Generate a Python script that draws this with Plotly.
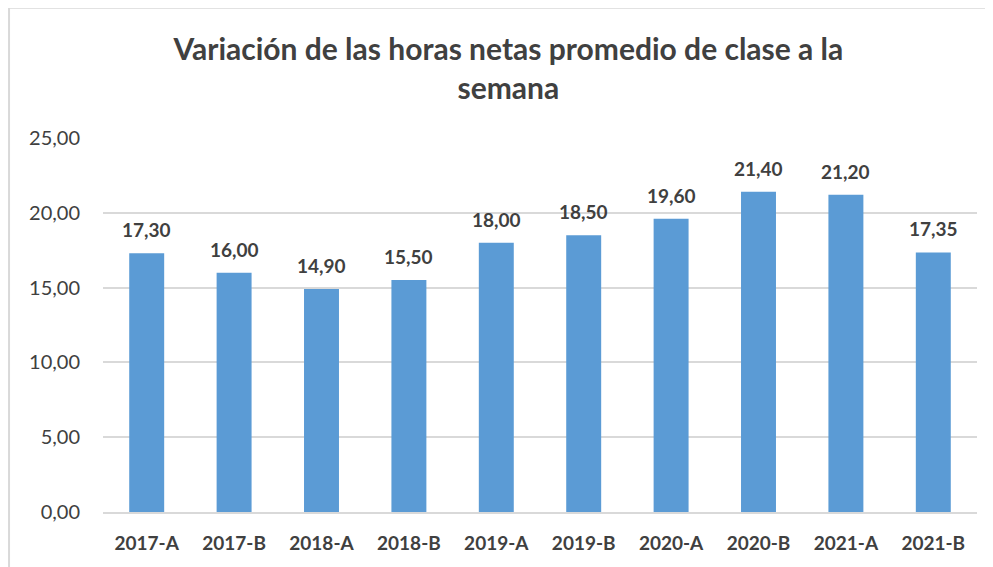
import plotly.graph_objects as go

# Semesters and average weekly net class hours
semesters = ["2017-A", "2017-B", "2018-A", "2018-B", "2019-A",
             "2019-B", "2020-A", "2020-B", "2021-A", "2021-B"]
hours = [17.30, 16.00, 14.90, 15.50, 18.00, 18.50, 19.60, 21.40, 21.20, 17.35]
y_ticks = [0, 5, 10, 15, 20, 25]

font_main = "Lato, Carlito, Calibri, sans-serif"
text_color = "#404040"

fig = go.Figure()
fig.add_trace(go.Bar(
    x=semesters, y=hours,
    marker=dict(color="#5B9BD5", line=dict(width=0)),
    width=0.4,
    hoverinfo="x+y",
))

# data labels above the bars
for s, h in zip(semesters, hours):
    fig.add_annotation(
        x=s, y=h, text=f"{h:.2f}".replace(".", ","),
        showarrow=False, yanchor="bottom", yshift=10,
        font=dict(family=font_main, size=19, color=text_color, weight="bold"),
    )

# light border around the chart area (page body has an 8px margin)
fig.add_shape(type="rect", xref="paper", yref="paper",
              x0=-0.1075, x1=1.3, y0=-0.3, y1=1.3485,
              line=dict(color="#D9D9D9", width=2), layer="below")

fig.update_layout(
    width=985, height=559,
    margin=dict(l=95, r=16, t=130, b=55),
    paper_bgcolor="white", plot_bgcolor="white",
    separators=",.",
    showlegend=False,
    title=dict(
        text="Variación de las horas netas promedio de clase a la<br>semana",
        x=0.508, xanchor="center", y=0.907, yanchor="top",
        font=dict(family=font_main, size=30, color=text_color, weight="bold"),
    ),
    xaxis=dict(
        showgrid=False, showline=True, linecolor="#D9D9D9", linewidth=2,
        ticks="", ticklabelstandoff=13,
        tickfont=dict(family=font_main, size=19, color=text_color, weight="bold"),
    ),
    yaxis=dict(
        range=[0, 25], tickvals=y_ticks, tickformat=".2f",
        showgrid=True, gridcolor="#D9D9D9", gridwidth=2,
        zeroline=False, showline=False, ticks="", ticklabelstandoff=22,
        tickfont=dict(family=font_main, size=20, color=text_color),
    ),
)

fig.write_html("out.html")
